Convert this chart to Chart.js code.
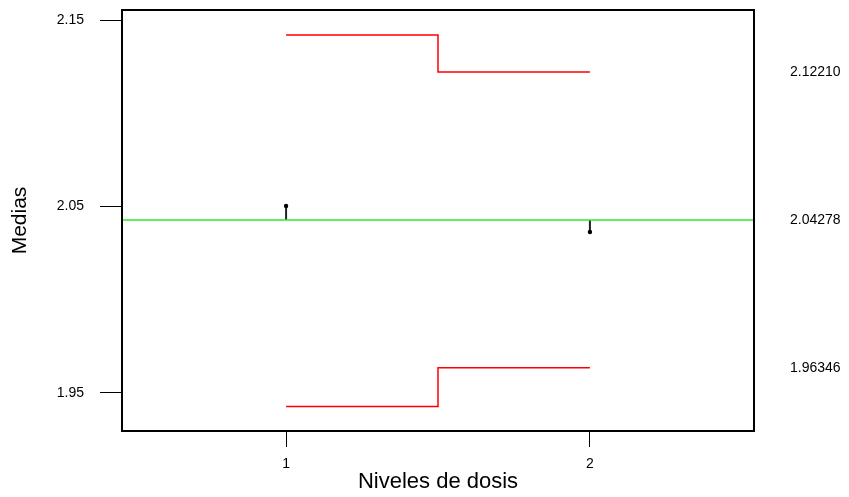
<!DOCTYPE html>
<html>
<head>
<meta charset="utf-8">
<script src="https://cdn.jsdelivr.net/npm/chart.js@4.4.1/dist/chart.umd.min.js"></script>
<style>
  html, body { margin: 0; padding: 0; background: #fff; }
  canvas { display: block; }
</style>
</head>
<body>
<canvas id="myChart" width="849" height="497"></canvas>
<script>
// niveles y medias
const levels = [1, 2];
const means = [2.0503, 2.0363];
const centerLine = 2.04278;
const upperLimits = [2.142, 2.1221];
const lowerLimits = [1.9428, 1.96346];
const yTicks = [1.95, 2.05, 2.15];
const limitTicks = [1.96346, 2.04278, 2.1221];
const xRange = [0.46, 2.54];
const yRange = [1.9296, 2.1554];

const FONT = "'Liberation Sans', Arial, sans-serif";

const stepData = (vals) => levels.map((x, i) => ({ x: x, y: vals[i] }));

const stems = levels.map((x, i) => ({
  data: [{ x: x, y: centerLine }, { x: x, y: means[i] }],
  borderColor: "#222",
  backgroundColor: "#000",
  borderWidth: 2,
  pointRadius: [0, 2.2],
  pointBorderWidth: 0,
  showLine: true,
}));

// sin relleno extra de las escalas
const noPad = (scale) => {
  scale.paddingTop = 0;
  scale.paddingBottom = 0;
  scale.paddingLeft = 0;
  scale.paddingRight = 0;
};

// marco del grafico
const boxPlugin = {
  id: "box",
  afterDraw(chart) {
    const { ctx, chartArea } = chart;
    ctx.save();
    ctx.strokeStyle = "#000";
    ctx.lineWidth = 2;
    ctx.strokeRect(chartArea.left, chartArea.top, chartArea.right - chartArea.left, chartArea.bottom - chartArea.top);
    ctx.restore();
  },
};

const ctx = document.getElementById("myChart");
new Chart(ctx, {
  type: "scatter",
  data: {
    datasets: [
      {
        data: stepData(upperLimits),
        stepped: "middle",
        showLine: true,
        borderColor: "#ff0000",
        borderWidth: 1.5,
        pointRadius: 0,
      },
      {
        data: stepData(lowerLimits),
        stepped: "middle",
        showLine: true,
        borderColor: "#ff0000",
        borderWidth: 1.5,
        pointRadius: 0,
      },
      {
        data: xRange.map((x) => ({ x: x, y: centerLine })),
        showLine: true,
        borderColor: "rgb(45, 232, 45)",
        borderWidth: 1.5,
        pointRadius: 0,
      },
      ...stems,
    ],
  },
  options: {
    responsive: false,
    animation: false,
    layout: { padding: { top: 10, left: 0, right: 0, bottom: 0 } },
    plugins: {
      legend: { display: false },
      tooltip: { enabled: false },
    },
    scales: {
      x: {
        type: "linear",
        min: xRange[0],
        max: xRange[1],
        afterBuildTicks: (scale) => {
          scale.ticks = levels.map((v) => ({ value: v }));
        },
        afterFit: (scale) => {
          scale.height = 66;
          noPad(scale);
        },
        border: { display: false },
        grid: { drawOnChartArea: false, tickLength: 16, color: "#000", lineWidth: 1 },
        ticks: {
          padding: 9,
          color: "#000",
          font: { family: FONT, size: 14 },
          callback: (v) => String(v),
        },
        title: {
          display: true,
          text: "Niveles de dosis",
          color: "#000",
          font: { family: FONT, size: 22 },
          padding: { top: 0, bottom: 2 },
        },
      },
      y: {
        position: "left",
        min: yRange[0],
        max: yRange[1],
        afterBuildTicks: (scale) => {
          scale.ticks = yTicks.map((v) => ({ value: v }));
        },
        afterFit: (scale) => {
          scale.width = 122;
          noPad(scale);
        },
        border: { display: false },
        grid: { drawOnChartArea: false, tickLength: 22, color: "#000", lineWidth: 1 },
        ticks: {
          padding: 16,
          color: "#000",
          font: { family: FONT, size: 14 },
          callback: (v) => v.toFixed(2),
        },
        title: {
          display: true,
          text: "Medias",
          color: "#000",
          font: { family: FONT, size: 21 },
          padding: { top: 8, bottom: 0 },
        },
      },
      yLimits: {
        position: "right",
        min: yRange[0],
        max: yRange[1],
        afterBuildTicks: (scale) => {
          scale.ticks = limitTicks.map((v) => ({ value: v }));
        },
        afterFit: (scale) => {
          scale.width = 95;
          noPad(scale);
        },
        border: { display: false },
        grid: { display: false, drawTicks: false },
        ticks: {
          padding: 36,
          color: "#000",
          font: { family: FONT, size: 14 },
          callback: (v) => v.toFixed(5),
        },
      },
    },
  },
  plugins: [boxPlugin],
});
</script>
</body>
</html>
